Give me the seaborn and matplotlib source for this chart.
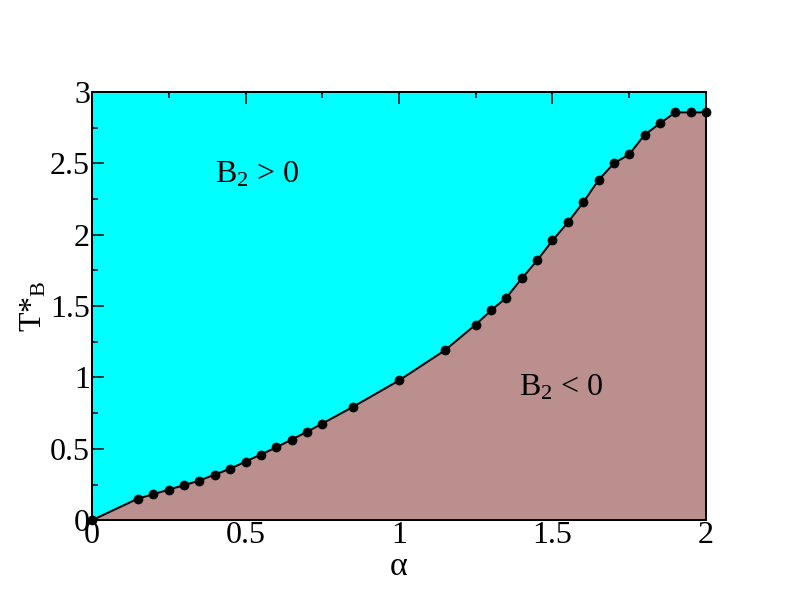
import matplotlib
matplotlib.use("Agg")
import matplotlib.pyplot as plt
import seaborn as sns
import pandas as pd
from matplotlib.ticker import MultipleLocator, FuncFormatter

# data
alpha = [0.0, 0.15, 0.20, 0.25, 0.30, 0.35, 0.40, 0.45, 0.50, 0.55, 0.60,
         0.65, 0.70, 0.75, 0.85, 1.00, 1.15, 1.25, 1.30, 1.35, 1.40, 1.45,
         1.50, 1.55, 1.60, 1.65, 1.70, 1.75, 1.80, 1.85, 1.90, 1.95, 2.00]
t_boyle = [0.0, 0.152, 0.182, 0.215, 0.245, 0.278, 0.32, 0.36, 0.411, 0.46, 0.51,
           0.565, 0.619, 0.677, 0.794, 0.979, 1.191, 1.371, 1.47, 1.56, 1.694, 1.82,
           1.96, 2.086, 2.226, 2.383, 2.50, 2.563, 2.70, 2.78, 2.857, 2.857, 2.857]

df = pd.DataFrame({"alpha": alpha, "T": t_boyle})

sns.set_style("ticks")
plt.rcParams["font.family"] = ["Liberation Serif", "DejaVu Serif"]
plt.rcParams["mathtext.fontset"] = "custom"
plt.rcParams["mathtext.rm"] = "Liberation Serif"
plt.rcParams["mathtext.it"] = "Liberation Serif:italic"
plt.rcParams["text.color"] = "black"
plt.rcParams["axes.labelcolor"] = "black"
plt.rcParams["xtick.color"] = "black"
plt.rcParams["ytick.color"] = "black"

fig = plt.figure(figsize=(11, 8.5), dpi=72)
ax = fig.add_axes([0.1162, 0.150, 0.7752, 0.6997])

ax.set_facecolor("cyan")
ax.fill_between(df["alpha"], 0, df["T"], color="rosybrown", lw=0)
sns.lineplot(data=df, x="alpha", y="T", ax=ax, color="black", lw=2,
             marker="o", markersize=9, markeredgecolor="black", clip_on=False,
             zorder=5)

ax.set_xlim(0, 2)
ax.set_ylim(0, 3)
ax.xaxis.set_major_locator(MultipleLocator(0.5))
ax.xaxis.set_minor_locator(MultipleLocator(0.25))
ax.yaxis.set_major_locator(MultipleLocator(0.5))
ax.yaxis.set_minor_locator(MultipleLocator(0.25))
ax.xaxis.set_major_formatter(FuncFormatter(lambda v, p: f"{v:g}"))
ax.yaxis.set_major_formatter(FuncFormatter(lambda v, p: f"{v:g}"))

ax.tick_params(which="both", direction="in", top=True, right=True, width=1.5,
               labelsize=32)
ax.tick_params(axis="y", pad=2)
ax.tick_params(axis="x", pad=1)
ax.tick_params(which="major", length=12)
ax.tick_params(which="minor", length=6)
for s in ax.spines.values():
    s.set_linewidth(2)
    s.set_color("black")

ax.set_xlabel("α", fontsize=34, labelpad=1)
ax.set_ylabel(r"T*$_{\mathrm{B}}$", fontsize=32, labelpad=2)

ax.text(0.40, 2.42, r"B$_2$ > 0", fontsize=32, va="center", ha="left")
ax.text(1.39, 0.925, r"B$_2$ < 0", fontsize=32, va="center", ha="left")

fig.savefig("out.png", dpi=72)
